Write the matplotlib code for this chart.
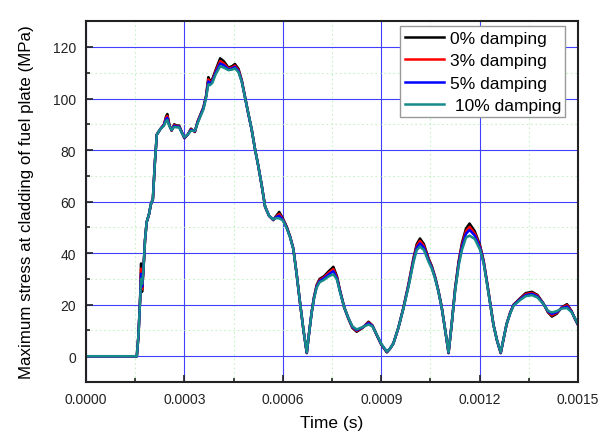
import numpy as np
import matplotlib
matplotlib.use("Agg")
import matplotlib.pyplot as plt
from matplotlib.ticker import MultipleLocator, FormatStrFormatter

plt.rcParams['font.family'] = ['Liberation Sans', 'DejaVu Sans']

# time in microseconds
time_us = [0, 155, 160, 165, 168, 171, 175, 180, 185, 192,
           198, 204, 210, 216, 226, 238, 244, 248, 254, 261,
           269, 276, 284, 292, 300, 310, 320, 332, 340, 348,
           358, 366, 373, 378, 385, 395, 409, 420, 434, 445,
           454, 465, 475, 485, 495, 505, 515, 525, 536, 546,
           558, 571, 580, 589, 600, 612, 622, 632, 642, 652,
           663, 673, 680, 688, 695, 703, 712, 725, 740, 754,
           765, 774, 787, 800, 812, 825, 843, 861, 873, 886,
           900, 917, 927, 937, 952, 967, 983, 998, 1008, 1018,
           1030, 1044, 1054, 1064, 1074, 1084, 1095, 1105, 1115, 1125,
           1136, 1146, 1158, 1169, 1185, 1201, 1212, 1222, 1232, 1242,
           1253, 1264, 1273, 1282, 1293, 1303, 1323, 1340, 1359, 1376,
           1394, 1408, 1420, 1435, 1450, 1466, 1480, 1490, 1500]

stress_0 = [0, 0, 8, 22, 36, 25, 33, 45, 52, 55,
            59, 61, 75, 86, 88, 90, 93, 94, 90, 87.5,
            90, 89.5, 89.5, 87, 84.6, 86, 88.3, 87, 91, 93.5,
            96.6, 101, 108.3, 106.8, 107.5, 111, 115.6, 114.5, 112, 112.5,
            113.4, 111.5, 107, 100.5, 94, 88, 80.5, 74, 66, 58,
            54.5, 52.8, 54.5, 56, 53.5, 50.2, 46.5, 41.8, 32, 21.2,
            10, 1.2, 9, 17.3, 23, 27.6, 30, 31, 33, 34.7,
            31, 25.7, 19, 14.5, 11, 9.5, 11, 13.4, 12, 8.2,
            4.5, 1.5, 3, 5, 11, 18.6, 28, 38, 43.5, 45.7,
            43.5, 38, 35, 30.8, 25.5, 19.2, 10, 1.2, 13, 26.3,
            37, 44, 49.5, 51.5, 48.5, 43, 37, 29, 20.5, 12.1,
            6, 1.2, 7, 12.5, 17, 20, 22.5, 24.5, 25, 23.8,
            20.5, 17, 15.4, 16.5, 19, 20.2, 17.5, 14.5, 12]

stress_3 = [0, 0, 8, 22, 34, 26, 33, 45, 52, 55,
            59, 61, 75, 86, 88, 90, 92.5, 93.2, 89.8, 87.6,
            89.7, 89.3, 89.3, 86.9, 84.7, 86, 88, 87.2, 90.8, 93.3,
            96.4, 100.8, 107.4, 106.2, 107, 110.5, 114.5, 113.6, 111.7, 112,
            112.8, 111, 106.8, 100.4, 94, 88, 80.5, 74, 66, 58,
            54.5, 52.9, 54.2, 55.2, 53.2, 50, 46.4, 41.7, 32, 21.2,
            10, 1.3, 9, 17.2, 22.8, 27.3, 29.6, 30.6, 32.4, 33.8,
            30.6, 25.5, 19, 14.6, 11.2, 9.8, 11.1, 13.1, 11.9, 8.3,
            4.6, 1.6, 3, 5, 11, 18.5, 27.7, 37.5, 42.8, 44.8,
            42.8, 37.6, 34.7, 30.6, 25.4, 19.1, 10, 1.3, 13, 26,
            36.5, 43.2, 48.5, 50.2, 47.6, 42.5, 36.7, 28.8, 20.4, 12.1,
            6, 1.3, 7, 12.5, 16.9, 19.9, 22.3, 24.1, 24.6, 23.5,
            20.4, 17.2, 15.9, 16.8, 18.9, 19.8, 17.4, 14.6, 12.1]

stress_5 = [0, 0, 8, 22, 32, 27, 33, 45, 52, 55,
            59, 61, 75, 86, 88, 89.8, 92, 92.5, 89.6, 87.7,
            89.4, 89.1, 89.1, 86.8, 84.8, 86, 87.8, 87.3, 90.6, 93.1,
            96.2, 100.6, 106.6, 105.8, 106.6, 110, 113.6, 112.9, 111.4, 111.6,
            112.3, 110.6, 106.6, 100.3, 94, 88, 80.5, 74, 66, 58,
            54.5, 53, 54, 54.5, 53, 49.8, 46.3, 41.6, 32, 21.2,
            10, 1.4, 9, 17.1, 22.6, 27, 29.2, 30.2, 31.8, 33,
            30.2, 25.3, 19, 14.7, 11.4, 10.1, 11.2, 12.8, 11.8, 8.4,
            4.7, 1.7, 3, 5, 11, 18.4, 27.4, 37, 42.1, 43.8,
            42.1, 37.2, 34.4, 30.4, 25.3, 19, 10, 1.4, 13, 25.7,
            36, 42.4, 47.5, 49, 46.8, 42, 36.4, 28.6, 20.3, 12.1,
            6, 1.4, 7, 12.5, 16.8, 19.8, 22.1, 23.7, 24.2, 23.2,
            20.4, 17.4, 16.4, 17.1, 18.7, 19.3, 17.3, 14.7, 12.2]

stress_10 = [0, 0, 8, 22, 30, 28, 33, 45, 52, 55,
             59, 61, 75, 86, 88, 89.5, 91.3, 91.7, 89.3, 87.8,
             89, 88.8, 88.8, 86.6, 85, 86, 87.5, 87.5, 90.3, 92.8,
             95.8, 100.2, 105.5, 105.2, 106, 109.3, 112.5, 112, 111, 111.2,
             111.7, 110.2, 106.4, 100.2, 94, 88, 80.5, 74, 66, 58,
             54.5, 53.1, 53.6, 53.5, 52.7, 49.6, 46.2, 41.5, 32, 21.2,
             10, 1.5, 9, 17, 22.4, 26.6, 28.7, 29.6, 31, 31.8,
             29.7, 25, 19, 14.8, 11.6, 10.4, 11.3, 12.3, 11.6, 8.5,
             4.8, 1.8, 3, 5, 11, 18.3, 27, 36.4, 41.2, 42.5,
             41.2, 36.7, 34, 30.1, 25.2, 18.9, 10, 1.5, 13, 25.3,
             35.3, 41.3, 46, 46.8, 45.5, 41.3, 36, 28.3, 20.2, 12.1,
             6, 1.5, 7, 12.5, 16.6, 19.6, 21.8, 23.3, 23.7, 22.8,
             20.3, 17.6, 17, 17.5, 18.5, 18.7, 17.1, 14.8, 12.3]

labels = ['0% damping', '3% damping', '5% damping', ' 10% damping']
colors = ['#000000', '#ff0000', '#0000ff', '#178a8a']

t = np.array(time_us) * 1e-6

fig = plt.figure(figsize=(6.01, 4.35), dpi=100)
ax = fig.add_axes([0.143, 0.1195, 0.819, 0.8295])

for s, lab, c in zip([stress_0, stress_3, stress_5, stress_10], labels, colors):
    ax.plot(t, s, color=c, lw=1.8, label=lab, solid_joinstyle='round')

ax.set_xlim(0, 0.0015)
ax.set_ylim(-10, 130)
ax.xaxis.set_major_locator(MultipleLocator(0.0003))
ax.xaxis.set_minor_locator(MultipleLocator(0.00015))
ax.yaxis.set_major_locator(MultipleLocator(20))
ax.yaxis.set_minor_locator(MultipleLocator(10))
ax.xaxis.set_major_formatter(FormatStrFormatter('%.4f'))
ax.yaxis.set_major_formatter(FormatStrFormatter('%d'))
ax.set_yticks([0, 20, 40, 60, 80, 100, 120])

ax.set_axisbelow(True)
ax.grid(which='major', color='#4040ff', lw=0.8)
ax.grid(which='minor', color='#c4f4c4', lw=0.8, ls=(0, (1.5, 2.5)))

ax.tick_params(which='both', direction='in', top=False, right=False,
               labelsize=10, colors='#222222', pad=7)
ax.tick_params(which='major', length=5, width=1.2)
ax.tick_params(which='minor', length=3, width=1.2)
for sp in ax.spines.values():
    sp.set_linewidth(1.5)
    sp.set_color('#222222')

ax.set_xlabel('Time (s)', fontsize=12.5, labelpad=7)
ax.set_ylabel('Maximum stress at cladding of fuel plate (MPa)', fontsize=12.2, labelpad=14)

leg = ax.legend(loc='upper right', bbox_to_anchor=(0.974, 0.986), fontsize=12.5,
                fancybox=False, framealpha=1, edgecolor='#999999',
                handlelength=2.3, handletextpad=0.3, labelspacing=0.42,
                borderpad=0.25, borderaxespad=0)
leg.get_frame().set_linewidth(1.0)

fig.savefig('out.png', dpi=100)
